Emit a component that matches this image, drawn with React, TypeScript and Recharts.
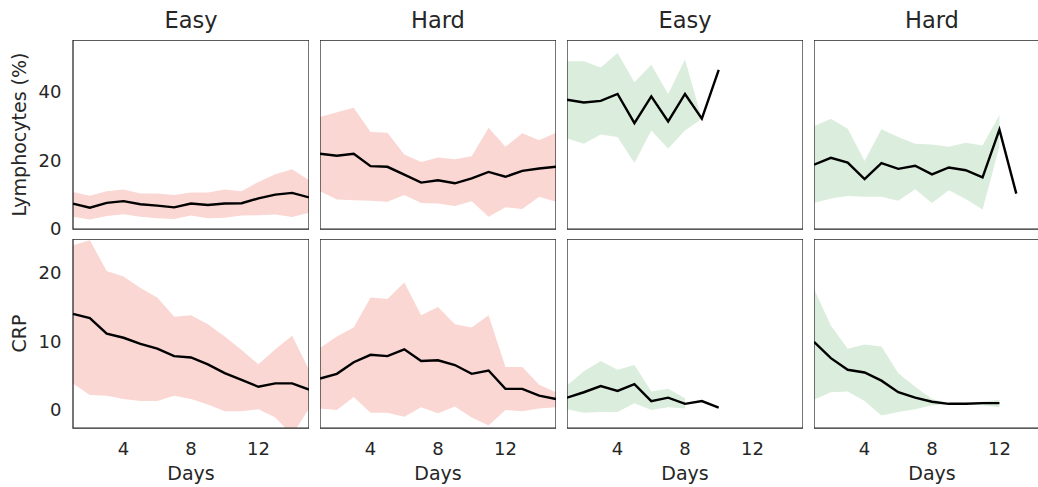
import { ComposedChart, Area, Line, XAxis, YAxis, ReferenceArea } from "recharts";

const DAYS = [1, 2, 3, 4, 5, 6, 7, 8, 9, 10, 11, 12, 13, 14, 15];
const X_TICKS = [4, 8, 12];
const LYMPH_TICKS = [0, 20, 40];
const CRP_TICKS = [0, 10, 20];
const TITLES = ["Easy", "Hard", "Easy", "Hard"];

// Lymphocytes (%), top row
const lymphEasyA = [7.4, 6.2, 7.6, 8.1, 7.2, 6.8, 6.3, 7.4, 7.0, 7.4, 7.5, 8.9, 10.0, 10.5, 9.2];
const lymphEasyAHi = [10.8, 9.7, 11.0, 11.5, 10.3, 10.3, 9.9, 10.6, 10.6, 11.5, 11.0, 13.7, 15.9, 17.4, 14.2];
const lymphEasyALo = [3.6, 2.8, 3.8, 4.3, 3.6, 3.1, 2.9, 3.9, 3.1, 3.3, 3.9, 4.0, 4.2, 3.5, 4.7];

const lymphHardA = [21.9, 21.3, 21.9, 18.3, 18.1, 15.8, 13.5, 14.2, 13.3, 14.7, 16.6, 15.2, 16.9, 17.6, 18.1];
const lymphHardAHi = [32.6, 34.0, 35.3, 28.2, 28.0, 21.7, 19.5, 20.8, 20.3, 21.2, 29.5, 23.9, 27.9, 25.8, 28.0];
const lymphHardALo = [11.0, 8.6, 8.4, 8.2, 7.9, 9.9, 7.6, 7.4, 6.7, 8.1, 3.6, 6.3, 5.8, 9.4, 7.9];

const lymphEasyB = [37.6, 36.8, 37.3, 39.3, 30.8, 38.6, 31.3, 39.3, 32.1, 46.3];
const lymphEasyBHi = [48.8, 48.8, 47.0, 51.2, 42.7, 47.8, 39.3, 49.3, 32.1];
const lymphEasyBLo = [26.3, 24.8, 27.5, 26.8, 19.2, 28.7, 23.4, 28.7, 32.1];

const lymphHardB = [18.7, 20.7, 19.3, 14.5, 19.2, 17.5, 18.4, 15.9, 17.9, 17.1, 15.0, 28.9, 10.3];
const lymphHardBHi = [29.9, 32.1, 29.2, 19.8, 29.0, 26.8, 24.8, 24.6, 23.9, 25.1, 24.3, 33.2];
const lymphHardBLo = [7.6, 8.9, 9.6, 9.4, 9.4, 8.2, 11.6, 7.6, 11.3, 8.7, 5.7, 23.9];

// CRP, bottom row
const crpEasyA = [14.0, 13.4, 11.1, 10.5, 9.6, 8.9, 7.8, 7.6, 6.6, 5.3, 4.3, 3.3, 3.8, 3.8, 2.9];
const crpEasyAHi = [24.1, 24.8, 20.3, 19.5, 17.8, 16.4, 13.6, 13.8, 12.5, 10.7, 8.7, 6.6, 8.8, 10.8, 5.8];
const crpEasyALo = [3.8, 2.1, 2.0, 1.5, 1.2, 1.2, 2.0, 1.5, 0.7, -0.3, -0.3, 0.0, -1.2, -3.8, 0.1];

const crpHardA = [4.5, 5.2, 6.9, 8.0, 7.8, 8.8, 7.1, 7.2, 6.5, 5.2, 5.7, 3.0, 3.0, 2.0, 1.5];
const crpHardAHi = [9.0, 10.7, 12.0, 16.4, 16.2, 18.6, 13.8, 15.0, 12.5, 12.0, 13.8, 6.2, 6.2, 3.6, 2.5];
const crpHardALo = [0.1, -0.1, 1.8, -0.5, -0.5, -1.1, 0.3, -0.6, 0.4, -1.2, -2.4, -0.1, -0.3, 0.1, 0.3];

const crpEasyB = [1.7, 2.5, 3.4, 2.7, 3.7, 1.2, 1.7, 0.8, 1.2, 0.25];
const crpEasyBHi = [3.5, 5.6, 7.1, 5.8, 6.5, 2.6, 3.0, 1.6];
const crpEasyBLo = [0.0, -0.5, -0.4, -0.4, 0.9, -0.1, 0.3, 0.1];

const crpHardB = [9.9, 7.5, 5.8, 5.4, 4.2, 2.5, 1.7, 1.1, 0.8, 0.8, 0.9, 0.9];
const crpHardBHi = [17.7, 12.3, 8.9, 9.5, 9.2, 5.3, 3.3, 1.5, 0.9, 0.8, 1.1, 1.4];
const crpHardBLo = [1.4, 2.5, 2.6, 1.2, -0.9, -0.4, 0.0, 0.6, 0.7, 0.7, 0.6, 0.3];

const PINK = "#fad7d3";
const GREEN = "#dbeedd";
const INK = "#262626";
const FONT = "DejaVu Sans, sans-serif";

const PLOT_W = 236;
const PLOT_H = 189;
const LEFT = 73;
const STEP = 247;

type PanelProps = {
  row: number;
  col: number;
  mean: number[];
  hi: number[];
  lo: number[];
  color: string;
};

function buildRows(mean: number[], hi: number[], lo: number[]) {
  return DAYS.map((d, i) => ({
    day: d,
    mean: mean[i] ?? null,
    band: lo[i] != null ? [lo[i], hi[i]] : null,
  }));
}

function Panel({ row, col, mean, hi, lo, color }: PanelProps) {
  const data = buildRows(mean, hi, lo);
  const domain: [number, number] = row === 0 ? [0, 55] : [-2.75, 25];
  const showY = col === 0;
  const showX = row === 1;
  const width = showY ? LEFT + PLOT_W : PLOT_W;
  // top row gets a small bottom margin so the "0" tick label is not cut off
  const bottomPad = showX ? 0 : 10;
  const height = showX ? PLOT_H + 59 : PLOT_H + bottomPad;
  const left = showY ? 0 : LEFT + col * STEP;
  const top = row === 0 ? 40 : 239;
  const yLabel = row === 0 ? "Lymphocytes (%)" : "CRP";

  return (
    <div style={{ position: "absolute", left, top, width, height }}>
      <ComposedChart width={width} height={height} data={data} margin={{ top: 0, right: 0, bottom: bottomPad, left: 0 }}>
        <XAxis
          dataKey="day"
          type="number"
          domain={[1, 15]}
          ticks={X_TICKS}
          interval={0}
          hide={!showX}
          height={59}
          tickLine={false}
          axisLine={false}
          tickSize={11}
          tickMargin={3}
          tick={{ fontSize: 18, fill: INK, fontFamily: FONT }}
          label={{ value: "Days", position: "insideBottom", offset: 7.5, fontSize: 19, fill: INK, fontFamily: FONT }}
        />
        <YAxis
          type="number"
          domain={domain}
          allowDataOverflow
          ticks={row === 0 ? LYMPH_TICKS : CRP_TICKS}
          interval={0}
          hide={!showY}
          width={LEFT}
          tickLine={false}
          axisLine={false}
          tickSize={9}
          tickMargin={2.5}
          tick={{ fontSize: 18, fill: INK, fontFamily: FONT }}
          label={{
            content: (p: any) => {
              const vb = p.viewBox || { y: 0, height: PLOT_H };
              const cy = vb.y + vb.height / 2;
              return (
                <text x={26} y={cy} transform={`rotate(-90, 26, ${cy})`} textAnchor="middle"
                  fontSize={19} fill={INK} fontFamily={FONT}>
                  {yLabel}
                </text>
              );
            },
          }}
        />
        <Area dataKey="band" stroke="none" fill={color} fillOpacity={1} isAnimationActive={false} dot={false} activeDot={false} />
        <Line dataKey="mean" stroke="#000" strokeWidth={2.4} dot={false} activeDot={false} isAnimationActive={false} />
        <ReferenceArea x1={1} x2={15} y1={domain[0]} y2={domain[1]} fill="none" stroke={INK} strokeWidth={1.25} ifOverflow="visible" />
      </ComposedChart>
    </div>
  );
}

export default function App() {
  return (
    <div style={{ position: "absolute", left: 0, top: 0, width: 1038, height: 487, overflow: "hidden", background: "#fff", fontFamily: FONT }}>
      <svg width={1038} height={40} style={{ position: "absolute", left: 0, top: 0 }}>
        {TITLES.map((t, i) => (
          <text key={i} x={LEFT + i * STEP + PLOT_W / 2} y={28.3} textAnchor="middle" fontSize={22.5} fill={INK} fontFamily={FONT}>
            {t}
          </text>
        ))}
      </svg>
      <Panel row={0} col={0} mean={lymphEasyA} hi={lymphEasyAHi} lo={lymphEasyALo} color={PINK} />
      <Panel row={0} col={1} mean={lymphHardA} hi={lymphHardAHi} lo={lymphHardALo} color={PINK} />
      <Panel row={0} col={2} mean={lymphEasyB} hi={lymphEasyBHi} lo={lymphEasyBLo} color={GREEN} />
      <Panel row={0} col={3} mean={lymphHardB} hi={lymphHardBHi} lo={lymphHardBLo} color={GREEN} />
      <Panel row={1} col={0} mean={crpEasyA} hi={crpEasyAHi} lo={crpEasyALo} color={PINK} />
      <Panel row={1} col={1} mean={crpHardA} hi={crpHardAHi} lo={crpHardALo} color={PINK} />
      <Panel row={1} col={2} mean={crpEasyB} hi={crpEasyBHi} lo={crpEasyBLo} color={GREEN} />
      <Panel row={1} col={3} mean={crpHardB} hi={crpHardBHi} lo={crpHardBLo} color={GREEN} />
    </div>
  );
}
